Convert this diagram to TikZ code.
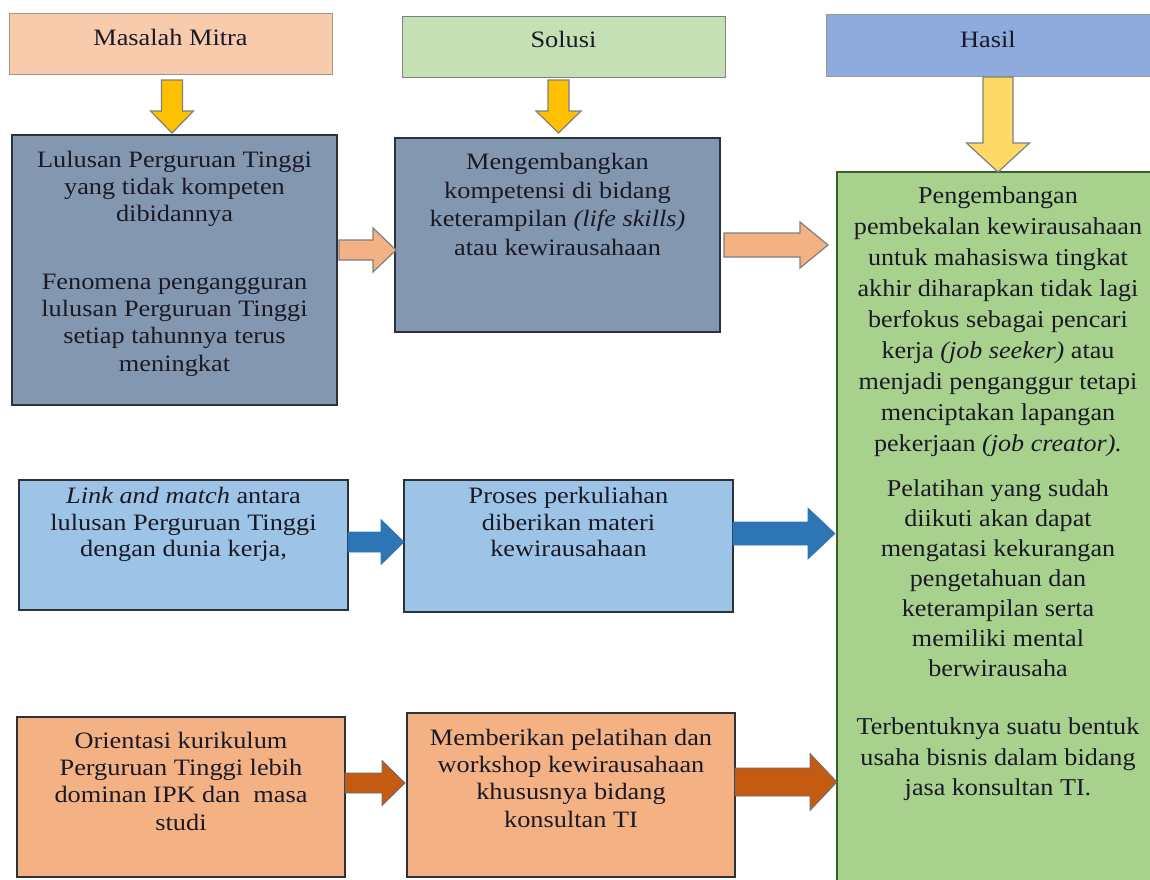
\documentclass[tikz,border=0pt]{standalone}
\usepackage{fontspec}
\setmainfont{Liberation Serif}
\newfontfamily\tnr[FakeStretch=1.12]{Liberation Serif}
\newfontfamily\tnrg[FakeStretch=1.08]{Liberation Serif}
\usetikzlibrary{fit,calc}
\definecolor{peach}{HTML}{F8CBAD}
\definecolor{lgreen}{HTML}{C5E0B4}
\definecolor{hblue}{HTML}{8FAADC}
\definecolor{slate}{HTML}{8497B0}
\definecolor{skyb}{HTML}{9DC3E6}
\definecolor{orng}{HTML}{F4B183}
\definecolor{grn}{HTML}{A9D18E}
\definecolor{yel}{HTML}{FFC000}
\definecolor{lyel}{HTML}{FFD966}
\definecolor{dblue}{HTML}{2E75B6}
\definecolor{dorng}{HTML}{C55A11}
\definecolor{txtc}{HTML}{1A1A26}
\definecolor{darkb}{HTML}{2A323C}
\definecolor{hgray}{HTML}{9A9A8C}
\definecolor{agray}{HTML}{7F7F7F}
\definecolor{gborder}{HTML}{3B5E2B}
\definecolor{bgray}{HTML}{5E7184}
\newcommand\varr[6]{\path[#1] let \p1=(#2), \p2=(#3) in (\x2-#4,\y1) -- (\x2+#4,\y1) -- (\x2+#4,\y2+#6) -- (\x2+#5,\y2+#6) -- (\x2,\y2) -- (\x2-#5,\y2+#6) -- (\x2-#4,\y2+#6) -- cycle;}
\newcommand\harr[7]{\path[#1] let \p1=(#2), \p2=(#3), \p3=(0,#4) in (\x1,\y3+#5) -- (\x2-#7,\y3+#5) -- (\x2-#7,\y3+#6) -- (\x2,\y3) -- (\x2-#7,\y3-#6) -- (\x2-#7,\y3-#5) -- (\x1,\y3-#5) -- cycle;}
\begin{document}
\begin{tikzpicture}[x=1pt,y=-1pt,
  rbox/.style={draw=darkb, line width=1.4pt, inner sep=0pt, outer sep=0pt},
  hbox/.style={draw=hgray, line width=1pt, inner sep=0pt, outer sep=0pt},
  txt/.style={inner sep=0pt, outer sep=0pt, align=center, text=txtc, anchor=north},
  ftA/.style={font=\tnr\fontsize{23.5}{28}\selectfont},
  ftB/.style={font=\tnr\fontsize{23.5}{26.7}\selectfont},
  arrY/.style={fill=yel, draw=agray, line width=1.2pt},
  arrLY/.style={fill=lyel, draw=agray, line width=1.2pt},
  arrLO/.style={fill=orng, draw=agray, line width=1.2pt},
  arrB/.style={fill=dblue, draw=dblue, line width=0.6pt},
  arrDO/.style={fill=dorng, draw=bgray, line width=0.8pt}]
\useasboundingbox (0,0) rectangle (1150,879);
\clip (0,0) rectangle (1150,879);
\fill[white] (0,0) rectangle (1150,879);
% headers
\node[hbox, fill=peach, fit={(9,13) (332,74)}] (h1) {};
\node[hbox, fill=lgreen, draw=agray, fit={(402,16) (725,77)}] (h2) {};
\node[hbox, fill=hblue, draw=hgray, fit={(826,14) (1151,76)}] (h3) {};
\node[txt, ftA] (th1) at (170.5,29) {Masalah Mitra};
\node[txt, ftA] (th2) at (563.5,31) {Solusi};
\node[txt, ftA] (th3) at (988,31) {Hasil};
% boxes
\node[rbox, fill=slate, fit={(12,135) (337,405)}] (b1) {};
\node[rbox, fill=slate, fit={(395,138) (720,332)}] (b2) {};
\node[rbox, fill=skyb, fit={(19,480) (348,610)}] (b3) {};
\node[rbox, fill=skyb, fit={(404,480) (733,612)}] (b4) {};
\node[rbox, fill=orng, fit={(17,717) (345,877)}] (b5) {};
\node[rbox, fill=orng, fit={(407,713) (735,877)}] (b6) {};
\node[rbox, fill=grn, draw=gborder, fit={(837,172) (1159,890)}] (g) {};
% texts
\node[txt, font=\tnr\fontsize{23.5}{27.3}\selectfont] (t1) at (174.5,151) {Lulusan Perguruan Tinggi\\yang tidak kompeten\\dibidannya\\[40pt]Fenomena pengangguran\\lulusan Perguruan Tinggi\\setiap tahunnya terus\\meningkat};
\node[txt, font=\tnr\fontsize{23.5}{28.7}\selectfont] (t2) at (557.5,153) {Mengembangkan\\kompetensi di bidang\\keterampilan \textit{(life skills)}\\atau kewirausahaan};
\node[txt, ftB] (t3) at (183.5,487) {\textit{Link and match} antara\\lulusan Perguruan Tinggi\\dengan dunia kerja,};
\node[txt, ftB] (t4) at (568.5,487) {Proses perkuliahan\\diberikan materi\\kewirausahaan};
\node[txt, font=\tnr\fontsize{23.5}{27.3}\selectfont] (t5) at (181,732) {Orientasi kurikulum\\Perguruan Tinggi lebih\\dominan IPK dan\ \ masa\\studi};
\node[txt, font=\tnr\fontsize{23.5}{27.3}\selectfont] (t6) at (571,729) {Memberikan pelatihan dan\\workshop kewirausahaan\\khususnya bidang\\konsultan TI};
\node[txt, font=\tnrg\fontsize{24.2}{31}\selectfont] (g1) at (998,187) {Pengembangan\\pembekalan kewirausahaan\\untuk mahasiswa tingkat\\akhir diharapkan tidak lagi\\berfokus sebagai pencari\\kerja \textit{(job seeker)} atau\\menjadi penganggur tetapi\\menciptakan lapangan\\pekerjaan \textit{(job creator).}};
\node[txt, font=\tnrg\fontsize{24.2}{30}\selectfont] (g2) at (998,480) {Pelatihan yang sudah\\diikuti akan dapat\\mengatasi kekurangan\\pengetahuan dan\\keterampilan serta\\memiliki mental\\berwirausaha};
\node[txt, font=\tnrg\fontsize{24.2}{30.5}\selectfont] (g3) at (998,718) {Terbentuknya suatu bentuk\\usaha bisnis dalam bidang\\jasa konsultan TI.};
% vertical arrows
\varr{arrY}{$(h1.south)+(0,6)$}{$(b1.north)+(-2.5,-2)$}{10.5pt}{21.5pt}{22pt}
\varr{arrY}{$(h2.south)+(0,3)$}{$(b2.north)+(1,-5)$}{10.5pt}{22.5pt}{22pt}
\varr{arrLY}{$(h3.south)+(0,1)$}{g.north}{15pt}{31.5pt}{29pt}
% horizontal arrows
\harr{arrLO}{$(b1.east)+(2,0)$}{$(b2.west)+(1,0)$}{250}{10pt}{22pt}{23pt}
\harr{arrLO}{$(b2.east)+(4,0)$}{$(g.west)+(-9,0)$}{245}{12pt}{23pt}{28pt}
\harr{arrB}{b3.east}{b4.west}{542}{10pt}{22.5pt}{23pt}
\harr{arrB}{b4.east}{$(g.west)+(-2,0)$}{533.5}{11.5pt}{25.5pt}{27pt}
\harr{arrDO}{b5.east}{$(b6.west)+(-2,0)$}{783}{10pt}{22.5pt}{23pt}
\harr{arrDO}{b6.east}{g.west}{782}{14pt}{28.5pt}{27pt}
\end{tikzpicture}
\end{document}
